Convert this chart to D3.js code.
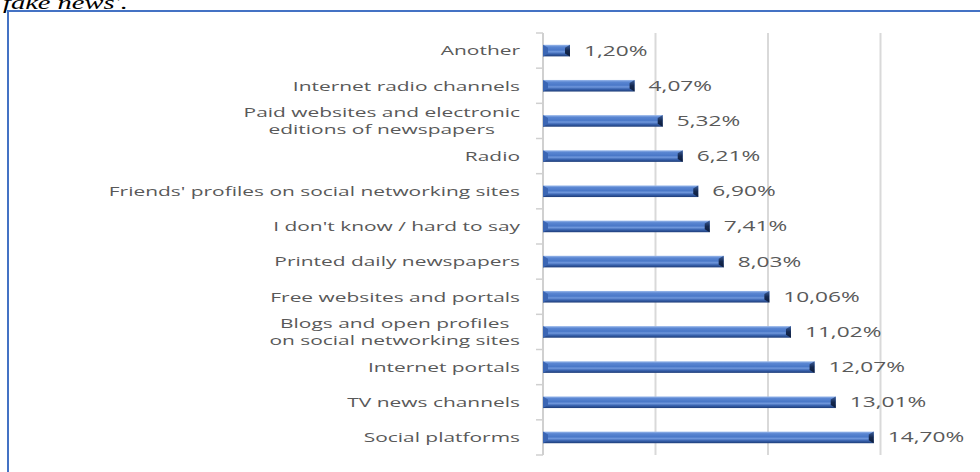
<!DOCTYPE html>
<html>
<head>
<meta charset="utf-8">
<script src="https://cdn.jsdelivr.net/npm/d3@7"></script>
<style>
  body { margin: 0; background: #fff; }
  svg { display: block; }
</style>
</head>
<body>
<svg id="chart" width="980" height="472"></svg>
<script>
// chart data (top to bottom)
const categories = [
  "Another",
  "Internet radio channels",
  "Paid websites and electronic\neditions of newspapers",
  "Radio",
  "Friends' profiles on social networking sites",
  "I don't know / hard to say",
  "Printed daily newspapers",
  "Free websites and portals",
  "Blogs and open profiles\non social networking sites",
  "Internet portals",
  "TV news channels",
  "Social platforms"
];
const shares = [1.20, 4.07, 5.32, 6.21, 6.90, 7.41, 8.03, 10.06, 11.02, 12.07, 13.01, 14.70];
const gridTicks = [0, 5, 10, 15];

const width = 980;
const height = 472;
const margin = {top: 33, left: 543, right: 99.5, bottom: 17};
const stretch = 1.55;   // the source picture is widened horizontally
const textColor = "#595959";

const svg = d3.select("#chart");

// caption line cut off at the top
svg.append("g")
  .attr("transform", "translate(3,9) scale(1.5,1)")
  .append("text")
  .attr("font-family", "Liberation Serif")
  .attr("font-style", "italic")
  .attr("font-size", 19)
  .attr("fill", "#000")
  .text("fake news'.");

// blue frame of the figure
svg.append("rect")
  .attr("x", 8).attr("y", 11)
  .attr("width", 1000).attr("height", 500)
  .attr("fill", "none")
  .attr("stroke", "#4472c4")
  .attr("stroke-width", 2);

const x = d3.scaleLinear()
  .domain([0, 15])
  .range([margin.left, width - margin.right]);

const y = d3.scaleBand()
  .domain(categories)
  .range([margin.top, height - margin.bottom])
  .paddingInner(0.67)
  .paddingOuter(0.335);

// gradient for the bevelled bars
const defs = svg.append("defs");
const grad = defs.append("linearGradient")
  .attr("id", "barGrad").attr("x1", 0).attr("y1", 0).attr("x2", 0).attr("y2", 1);
[["0%", "#9dbbec"], ["18%", "#5a86d2"], ["45%", "#4a78c8"], ["60%", "#6f97dc"],
 ["78%", "#3a64b0"], ["100%", "#1d3c78"]].forEach(s =>
  grad.append("stop").attr("offset", s[0]).attr("stop-color", s[1]));

const capGrad = defs.append("linearGradient")
  .attr("id", "capGrad").attr("x1", 0).attr("y1", 0).attr("x2", 0).attr("y2", 1);
[["0%", "#3c5f9e"], ["50%", "#14284f"], ["100%", "#0e1d3c"]].forEach(s =>
  capGrad.append("stop").attr("offset", s[0]).attr("stop-color", s[1]));

// vertical grid lines
svg.append("g").selectAll("line")
  .data(gridTicks.slice(1))
  .enter().append("line")
  .attr("x1", d => x(d)).attr("x2", d => x(d))
  .attr("y1", margin.top).attr("y2", height - margin.bottom)
  .attr("stroke", "#d9d9d9")
  .attr("stroke-width", 2);

// category axis with tick marks between bands
const step = y.step();
const bounds = d3.range(categories.length + 1).map(i => margin.top + i * step);
const axis = svg.append("g");
axis.append("line")
  .attr("x1", x(0)).attr("x2", x(0))
  .attr("y1", margin.top).attr("y2", height - margin.bottom)
  .attr("stroke", "#d0d0d0").attr("stroke-width", 2);
axis.selectAll("line.tick")
  .data(bounds)
  .enter().append("line")
  .attr("class", "tick")
  .attr("x1", x(0) - 7).attr("x2", x(0))
  .attr("y1", d => d).attr("y2", d => d)
  .attr("stroke", "#d0d0d0").attr("stroke-width", 1.5);

// bars
const bars = svg.append("g").selectAll("g")
  .data(shares)
  .enter().append("g");

bars.append("rect")
  .attr("x", x(0))
  .attr("y", (d, i) => y(categories[i]))
  .attr("width", d => x(d) - x(0))
  .attr("height", y.bandwidth())
  .attr("fill", "url(#barGrad)");

bars.append("path")
  .attr("d", (d, i) => {
    const x1 = x(d), y0 = y(categories[i]), h = y.bandwidth();
    return "M" + (x1 - 5) + "," + (y0 + 3) + "L" + x1 + "," + y0 + "L" + x1 + "," + (y0 + h) +
      "L" + (x1 - 5) + "," + (y0 + h - 3) + "Z";
  })
  .attr("fill", "url(#capGrad)");

bars.append("path")
  .attr("d", (d, i) => {
    const x0 = x(0), y0 = y(categories[i]), h = y.bandwidth();
    return "M" + x0 + "," + y0 + "L" + (x0 + 5) + "," + (y0 + 3) + "L" + (x0 + 5) + "," + (y0 + h - 3) +
      "L" + x0 + "," + (y0 + h) + "Z";
  })
  .attr("fill", "#3b66b4");

// value labels
const fmt = v => v.toFixed(2).replace(".", ",") + "%";
svg.append("g").selectAll("g")
  .data(shares)
  .enter().append("g")
  .attr("transform", (d, i) =>
    "translate(" + (x(d) + 14) + "," + (y(categories[i]) + y.bandwidth() / 2) + ") scale(1.62,1)")
  .append("text")
  .attr("dy", "0.36em")
  .attr("font-family", "Open Sans")
  .attr("font-size", 14)
  .attr("fill", textColor)
  .text(d => fmt(d));

// category labels (two-line labels are centred on their widest line)
const labelRight = 520;
categories.forEach(cat => {
  const lines = cat.split("\n");
  const cy = y(cat) + y.bandwidth() / 2;
  const g = svg.append("g")
    .attr("transform", "translate(" + labelRight + "," + cy + ") scale(" + stretch + ",1)");
  const texts = lines.map((ln, j) => g.append("text")
    .attr("y", (j - (lines.length - 1) / 2) * 17)
    .attr("dy", "0.36em")
    .attr("font-family", "Open Sans")
    .attr("font-size", 13.5)
    .attr("fill", textColor)
    .text(ln));
  const maxW = d3.max(texts, t => t.node().getComputedTextLength());
  texts.forEach(t => t.attr("text-anchor", "middle").attr("x", -maxW / 2));
});
</script>
</body>
</html>
